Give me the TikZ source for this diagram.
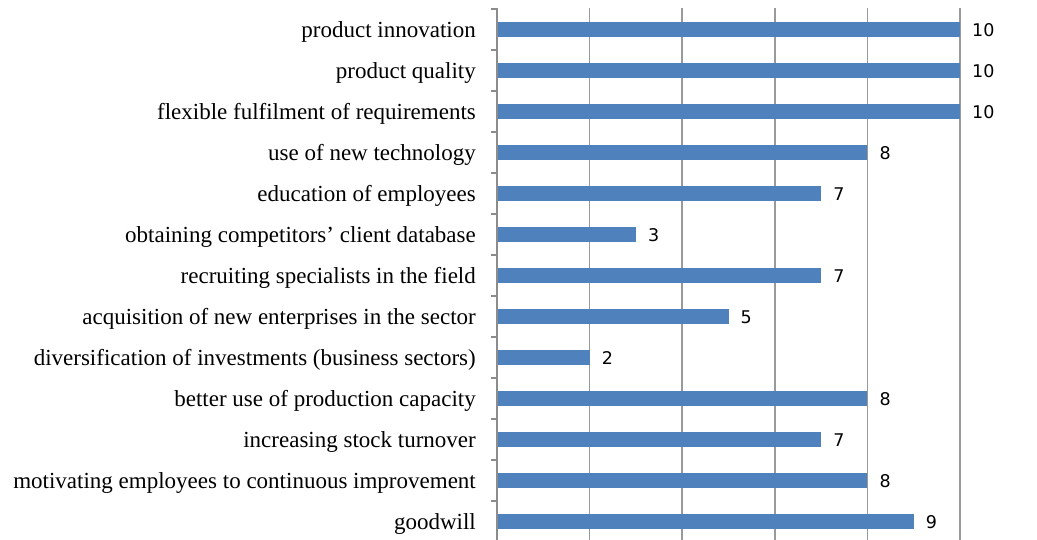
\documentclass[tikz,border=0pt]{standalone}
\usepackage{fontspec}
\setmainfont{Liberation Serif}
\newfontfamily\valfont{DejaVu Sans}
\definecolor{barblue}{HTML}{4F81BD}
\definecolor{gridgray}{HTML}{9A9A9A}
\definecolor{axisgray}{HTML}{8C8C8C}
\begin{document}
\begin{tikzpicture}[x=1pt,y=-1pt,
  catlabel/.style={anchor=base east,inner sep=0pt,font=\fontsize{23}{26}\selectfont,text=black},
  vallabel/.style={anchor=base west,inner sep=0pt,font=\valfont\fontsize{17.5}{20}\selectfont,text=black},
  barrect/.style={fill=barblue,draw=none},
  gridline/.style={draw=gridgray,line width=1.5pt},
  axisline/.style={draw=axisgray,line width=1.5pt}]
\useasboundingbox (0,0) rectangle (1037,540);
\fill[white] (0,0) rectangle (1037,540);
% gridlines
\foreach \k in {1,...,5} {
  \draw[gridline] ({497+92.6*\k},8) -- ({497+92.6*\k},540);
}
% axis
\draw[axisline] (497,8) -- (497,540);
\foreach \i in {0,...,13} {
  \draw[axisline] (491,{9+41*\i}) -- (497,{9+41*\i});
}
% bars and labels
\foreach \i/\lab/\v in {
  0/product innovation/10,
  1/product quality/10,
  2/flexible fulfilment of requirements/10,
  3/use of new technology/8,
  4/education of employees/7,
  5/obtaining competitors’ client database/3,
  6/recruiting specialists in the field/7,
  7/acquisition of new enterprises in the sector/5,
  8/diversification of investments (business sectors)/2,
  9/better use of production capacity/8,
  10/increasing stock turnover/7,
  11/motivating employees to continuous improvement/8,
  12/goodwill/9} {
  \pgfmathsetmacro{\yc}{29.5+41*\i}
  \pgfmathsetmacro{\xe}{497+46.3*\v}
  \fill[barrect] (497.8,{\yc-7.8}) rectangle (\xe,{\yc+7.8});
  \node[catlabel] (cat\i) at (476,{\yc+8.4}) {\lab};
  \node[vallabel] (val\i) at ({\xe+12},{\yc+7.4}) {\v};
}
\end{tikzpicture}
\end{document}
